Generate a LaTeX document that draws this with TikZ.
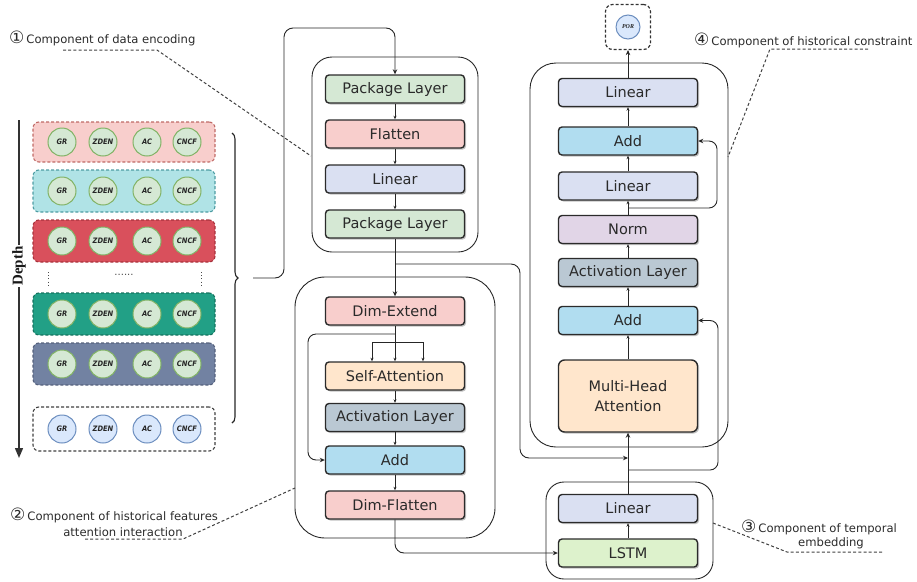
\documentclass[tikz,border=0pt]{standalone}
\usepackage{fontspec}
\setmainfont{DejaVu Sans}
\newfontfamily\condfont{DejaVu Sans Condensed}
\newfontfamily\serifface{Liberation Serif}
\usetikzlibrary{arrows.meta,shadows,decorations.pathreplacing,calc}

% fills of the layer blocks
\definecolor{fGreen}{HTML}{D5E8D4}
\definecolor{fPink}{HTML}{F8CECC}
\definecolor{fLav}{HTML}{DAE0F2}
\definecolor{fOrange}{HTML}{FFE6CC}
\definecolor{fSlate}{HTML}{BAC8D3}
\definecolor{fBlue}{HTML}{B1DDF0}
\definecolor{fLilac}{HTML}{E1D5E7}
\definecolor{fLime}{HTML}{DDF2CC}
\definecolor{edge}{HTML}{2B2B2B}
\definecolor{txt}{HTML}{2A2A2A}
% input rows
\definecolor{rowA}{HTML}{F8CECC}\definecolor{rowAd}{HTML}{C06A66}
\definecolor{rowB}{HTML}{B0E3E6}\definecolor{rowBd}{HTML}{4E9DA3}
\definecolor{rowC}{HTML}{D9505C}\definecolor{rowCd}{HTML}{A8323C}
\definecolor{rowD}{HTML}{22A086}\definecolor{rowDd}{HTML}{15735F}
\definecolor{rowE}{HTML}{7282A2}\definecolor{rowEd}{HTML}{55617D}
\definecolor{cG}{HTML}{D5E8D4}\definecolor{cGd}{HTML}{82B366}
\definecolor{cB}{HTML}{DAE8FC}\definecolor{cBd}{HTML}{6C8EBF}

\newcommand\numfont{\fontsize{17}{17}\selectfont}

\begin{document}
\begin{tikzpicture}[x=1pt,y=-1pt,
  blk/.style={draw=edge, line width=1.4pt, rounded corners=3.5pt,
    minimum width=139pt, minimum height=28pt, inner sep=0pt, text=txt,
    font=\fontsize{14.5}{17}\selectfont,
    drop shadow={shadow xshift=1.6pt, shadow yshift=-1.6pt, fill=black!40, opacity=0.6}},
  cont/.style={draw=black!85, line width=0.9pt},
  conn/.style={draw=black!85, line width=0.9pt, -{Stealth[length=5pt,width=4.5pt]}},
  link/.style={draw=black!85, line width=0.9pt, -{Stealth[length=3.5pt,width=3pt]}},
  wire/.style={draw=black!85, line width=0.9pt},
  rowbox/.style={rounded corners=6pt, line width=1.1pt, dash pattern=on 3pt off 2pt,
    minimum width=182pt, inner sep=0pt},
  circ/.style={circle, draw=cGd, fill=cG, line width=1pt, minimum size=28pt, inner sep=0pt,
    text=black!85, font=\condfont\bfseries\itshape\fontsize{7.5}{8}\selectfont},
  circb/.style={circ, draw=cBd, fill=cB},
  anno/.style={text=txt, inner sep=0pt, font=\fontsize{11.6}{13}\selectfont},
  lead/.style={draw=black!75, line width=1pt, dash pattern=on 3pt off 2.2pt},
]
\useasboundingbox (0,0) rectangle (917,581);

% ---------------- input rows ----------------
\foreach \n/\yy/\hh/\f/\d in {1/142/40/rowA/rowAd, 2/191/42/rowB/rowBd, 3/241/42/rowC/rowCd,
                              4/314/42/rowD/rowDd, 5/364/42/rowE/rowEd}{
  \node[rowbox, minimum height=\hh pt, fill=\f, draw=\d] (r\n) at (124,\yy) {};
  \foreach \xx/\lab in {62/GR,103/ZDEN,147/AC,187/CNCF}
    \node[circ] (c\n\lab) at (\xx,\yy) {\lab};
}
\node[rowbox, minimum height=44pt, fill=white, draw=black!75] (r6) at (124,429) {};
\foreach \xx/\lab in {62/GR,103/ZDEN,147/AC,187/CNCF}
  \node[circb] (c6\lab) at (\xx,429) {\lab};

% ellipsis between the rows
\draw[black!70, line width=1pt, dash pattern=on 1pt off 2.2pt] (48,272) -- (48,286);
\draw[black!70, line width=1pt, dash pattern=on 1pt off 2.2pt] (201,272) -- (201,286);
\node[text=black!70, inner sep=0pt, font=\fontsize{10}{10}\selectfont] (ell) at (124,275) {......};

% depth axis
\coordinate (dtop) at (19,120);
\coordinate (dbot) at (19,458);
\draw[draw=black!80, line width=1.4pt, -{Triangle[length=10pt,width=8pt]}] (dtop) -- (dbot);
\node[rotate=90, fill=white, inner sep=1.5pt, text=black!90,
      font=\serifface\bfseries\fontsize{15}{15}\selectfont] (depth) at (19,266) {Depth};

% brace gathering the rows
\draw[draw=black!85, line width=1.1pt, decorate, decoration={brace, amplitude=6pt}]
  (232,133) -- (232,423);
\coordinate (bt) at (253,278);

% ---------------- containers ----------------
\draw[cont, rounded corners=20pt] (312,57) rectangle (478,252);
\draw[cont, rounded corners=30pt] (295,277) rectangle (495,538);
\draw[cont, rounded corners=18pt] (546,482) rectangle (713,579);
\draw[cont, rounded corners=26pt] (530,63) rectangle (728,447);

% ---------------- component 1 ----------------
\node[blk, fill=fGreen] (pk1) at (395,89) {Package Layer};
\node[blk, fill=fPink] (fl) at (395,134) {Flatten};
\node[blk, fill=fLav] (li1) at (395,179) {Linear};
\node[blk, fill=fGreen] (pk2) at (395,224) {Package Layer};

% ---------------- component 2 ----------------
\node[blk, fill=fPink] (de) at (395,311) {Dim-Extend};
\node[blk, fill=fOrange] (sa) at (395,376) {Self-Attention};
\node[blk, fill=fSlate] (al1) at (395,417.5) {Activation Layer};
\node[blk, fill=fBlue] (ad1) at (395,460) {Add};
\node[blk, fill=fPink] (df) at (395,505) {Dim-Flatten};

% ---------------- component 3 ----------------
\node[blk, fill=fLav] (li3) at (628,508.5) {Linear};
\node[blk, fill=fLime] (ls) at (628,553) {LSTM};

% ---------------- component 4 ----------------
\node[blk, fill=fLav] (li4a) at (628,92.5) {Linear};
\node[blk, fill=fBlue] (ad4a) at (628,141) {Add};
\node[blk, fill=fLav] (li4b) at (628,186) {Linear};
\node[blk, fill=fLilac] (nm) at (628,229.5) {Norm};
\node[blk, fill=fSlate] (al4) at (628,272.5) {Activation Layer};
\node[blk, fill=fBlue] (ad4b) at (628,320.5) {Add};
\node[blk, fill=fOrange, minimum height=72pt, rounded corners=6pt, align=center,
      font=\fontsize{14.5}{20}\selectfont] (mha) at (628,396) {Multi-Head\\Attention};

% output
\node[draw=black!80, line width=1.2pt, dash pattern=on 3pt off 2pt, rounded corners=7pt,
      minimum size=45pt, fill=white] (porbox) at (628,27) {};
\node[circb, minimum size=24pt, font=\serifface\bfseries\itshape\fontsize{6}{6}\selectfont] (por) at (628,27) {POR};

% ---------------- connectors ----------------
\draw[conn, rounded corners=9pt] (bt) -- (284,278) -- (284,28) -- (395,28) -- (pk1.north);
\draw[link] (pk1) -- (fl);
\draw[link] (fl) -- (li1);
\draw[link] (li1) -- (pk2);
\draw[conn] (pk2.south) -- (de.north);

% skip from the encoder output into the merge below the attention head
\coordinate (j0) at (395,264);
\coordinate (j1) at (628,458);
\draw[conn, rounded corners=9pt] (j0) -- (520,264) -- (520,458) -- (j1);

% fork into self-attention and residual to Add
\coordinate (fkl) at (372,342);
\coordinate (fkr) at (423,342);
\coordinate (rs) at (395,334);
\draw[link] (de.south) -- (sa.north);
\draw[wire] (fkl) -- (fkr);
\draw[link] (fkl) -- (fkl |- sa.north);
\draw[link] (fkr) -- (fkr |- sa.north);
\draw[conn, rounded corners=8pt] (rs) -- (308,334) -- (308,460) -- (ad1.west);
\draw[link] (sa) -- (al1);
\draw[link] (al1) -- (ad1);
\draw[link] (ad1) -- (df);
\draw[conn, rounded corners=9pt] (df.south) -- (395,553) -- (ls.west);

% temporal embedding up to the attention head
\draw[link] (ls) -- (li3);
\draw[conn] (li3.north) -- (mha.south);
\coordinate (j2) at (628,470);
\draw[conn, rounded corners=8pt] (j2) -- (718,470) -- (718,320.5) -- (ad4b.east);

% constraint stack
\draw[link] (mha) -- (ad4b);
\draw[link] (ad4b) -- (al4);
\draw[link] (al4) -- (nm);
\draw[link] (nm) -- (li4b);
\draw[link] (li4b) -- (ad4a);
\draw[link] (ad4a) -- (li4a);
\draw[conn] (li4a.north) -- (porbox.south);
\coordinate (j3) at (628,208);
\draw[conn, rounded corners=8pt] (j3) -- (717,208) -- (717,141) -- (ad4a.east);

% ---------------- annotations ----------------
\node[anno, anchor=west] (t1) at (9,38) {{\numfont ①}\kern2pt Component of data encoding};
\coordinate (e1) at (311,156);
\draw[lead] (63,50) -- (157,50) -- (e1);

\node[anno, anchor=west] (t2) at (10,515) {{\numfont ②}\kern2pt Component of historical features};
\node[anno] (t2b) at (123,532) {attention interaction};
\coordinate (e2) at (295,488);
\draw[lead] (85,539) -- (183,539) -- (e2);

\node[anno, anchor=west] (t3) at (741,527) {{\numfont ③}\kern2pt Component of temporal};
\node[anno] (t3b) at (831,543) {embedding};
\coordinate (e3) at (713,523);
\draw[lead] (e3) -- (787,552) -- (883,552);

\node[anno, anchor=west] (t4) at (694,40) {{\numfont ④}\kern2pt Component of historical constraint};
\coordinate (e4) at (728,157);
\draw[lead] (868,49) -- (770,49) -- (e4);
\end{tikzpicture}
\end{document}
